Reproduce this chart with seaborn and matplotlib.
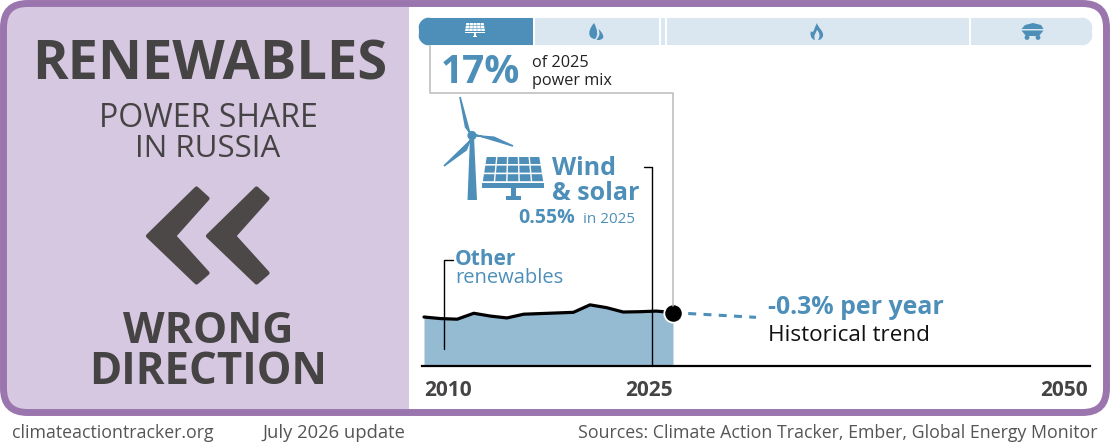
import numpy as np
import pandas as pd
import seaborn as sns
import matplotlib.pyplot as plt
from matplotlib.patches import FancyBboxPatch, Rectangle, Polygon, Circle, PathPatch
from matplotlib.path import Path

# power mix bar along the top (%)
mix_names = ['renewables', 'nuclear', 'oil', 'gas', 'coal']
mix_values = [17.1, 18.5, 0.9, 44.8, 18.2]

# historical share of renewables
years = [2010, 2011, 2012, 2013, 2014, 2015, 2016, 2017, 2018, 2019, 2020, 2021, 2022, 2023, 2024, 2025]
share = [15.7, 15.2, 15.0, 16.9, 16.0, 15.4, 16.6, 16.8, 17.0, 17.2, 19.6, 18.7, 17.3, 17.4, 17.6, 17.1]
trend_years = [2025, 2030]
trend_share = [17.1, 15.6]
tick_years = [2010, 2025, 2050]

BLUE = '#4d8fb8'
PALE = '#dbe7f0'
AREA = '#95bbd3'
PURPLE = '#9b76ae'
LILAC = '#d6c8e0'
DARK = '#454343'
GREY = '#b9bcbc'
W, H = 1110, 444

sns.set_theme(style="white")
plt.rcParams['font.family'] = ['Open Sans', 'DejaVu Sans']

fig = plt.figure(figsize=(W / 100, H / 100), dpi=100, facecolor='white')


def px_axes(x0, y0, x1, y1):
    # axes from pixel box, y counted from the top
    return fig.add_axes([x0 / W, 1 - y1 / H, (x1 - x0) / W, (y1 - y0) / H])


'''
stacked power mix bar
'''
ax_bar = px_axes(418, 17, 1093, 46)
ax_bar.patch.set_alpha(0)
mix = pd.DataFrame({'name': mix_names, 'value': mix_values})
mix['left'] = mix['value'].cumsum() - mix['value']
bars = ax_bar.barh(0, mix['value'], left=mix['left'], height=1,
                   color=[BLUE] + [PALE] * 4, edgecolor='white', linewidth=1.4)
ax_bar.set_xlim(0, mix['value'].sum())
ax_bar.set_ylim(-0.5, 0.5)
ax_bar.axis('off')
pill = FancyBboxPatch((0, 0), 1, 1, boxstyle='round,pad=0,rounding_size=14.5',
                      mutation_aspect=1, transform=None)
pill.set_bounds(418, H - 46, 675, 29)
for b in bars:
    b.set_clip_path(pill)

'''
chart
'''
ax = px_axes(422, 366 - 93.6, 1090, 366)
ax.patch.set_alpha(0)
ax.fill_between(years, share, 0, color=AREA, linewidth=0)
sns.lineplot(x=years, y=share, color='black', linewidth=2.3, ax=ax)
sns.lineplot(x=trend_years, y=trend_share, color=BLUE, linewidth=2.2, ax=ax, linestyle=(0, (2.6, 2.4)))
ax.scatter([years[-1]], [share[-1]], s=175, color='black', edgecolor='white', linewidth=1.3, zorder=5, clip_on=False)
ax.set_xlim(2009.88, 2050.12)
ax.set_ylim(0, 30)
ax.set_yticks([])
ax.set_xticks(tick_years)
ax.set_xticklabels([str(y) for y in tick_years], fontsize=15, fontweight='bold', color=DARK)
for lab, ha in zip(ax.get_xticklabels(), ['left', 'right', 'right']):
    lab.set_ha(ha)
ax.tick_params(axis='x', length=0, pad=10)
sns.despine(ax=ax, left=True)
ax.spines['bottom'].set_color('black')
ax.spines['bottom'].set_linewidth(1.6)

'''
everything else sits on a pixel overlay
'''
ov = fig.add_axes([0, 0, 1, 1], zorder=5)
ov.set_xlim(0, W)
ov.set_ylim(H, 0)
ov.axis('off')
ov.patch.set_alpha(0)

frame = FancyBboxPatch((3.5, 3.5), 1103, 409, boxstyle='round,pad=0,rounding_size=24',
                       facecolor='none', edgecolor=PURPLE, linewidth=5, zorder=4)
clip = FancyBboxPatch((3.5, 3.5), 1103, 409, boxstyle='round,pad=0,rounding_size=24',
                      facecolor='none', edgecolor='none', transform=ov.transData)
ov.add_patch(clip)
panel = Rectangle((0, 0), 409, 416, facecolor=LILAC, edgecolor='none', zorder=1)
ov.add_patch(panel)
panel.set_clip_path(clip)
ov.add_patch(frame)


def txt(x, y, s, size, color=DARK, weight='normal', ha='left'):
    ov.text(x, y, s, fontsize=size, color=color, fontweight=weight, ha=ha, va='baseline', zorder=6)


# left panel
txt(210, 79, 'RENEWABLES', 39, weight='bold', ha='center')
txt(208, 127, 'POWER SHARE', 23, ha='center')
txt(208, 157, 'IN RUSSIA', 22.5, ha='center')
txt(208, 343, 'WRONG', 31, weight='bold', ha='center')
txt(208, 384, 'DIRECTION', 31.5, weight='bold', ha='center')

chevron = np.array([(196.5, 188.5), (207.5, 198.5), (174, 236), (207.5, 273), (196.5, 282.5), (148, 236)], dtype=float)
for dx in [0, 60]:
    ov.add_patch(Polygon(chevron + [dx, 0], closed=True, facecolor='#4c4848', edgecolor='#4c4848',
                         linewidth=3, joinstyle='round', zorder=3))

# brackets
ov.plot([430, 430, 673, 673], [46, 93, 93, 306], color=GREY, lw=1.1, zorder=2)
ov.plot([644, 652, 652], [167, 167, 366], color='black', lw=1.0, zorder=3)
ov.plot([453, 444, 444], [260, 260, 349], color='black', lw=1.0, zorder=3)

# texts in chart
txt(441, 83, '17%', 28, color=BLUE, weight='bold')
txt(532, 67, 'of 2025', 11.7, color='#222222')
txt(532, 85, 'power mix', 11.7, color='#222222')
txt(552, 175, 'Wind', 18, color=BLUE, weight='bold')
txt(552, 200, '& solar', 18, color=BLUE, weight='bold')
txt(518, 223, '0.55%', 14, color=BLUE, weight='bold')
txt(583, 223, 'in 2025', 11, color=BLUE)
txt(455, 265, 'Other', 15, color=BLUE, weight='bold')
txt(455, 283, 'renewables', 14.5, color=BLUE)
txt(768, 314, '-0.3% per year', 17.9, color=BLUE, weight='bold')
txt(768, 341, 'Historical trend', 16.2, color='#111111')

# footer
txt(12, 438, 'climateactiontracker.org', 12.8, color='#555555')
txt(262, 438, 'July 2026 update', 13.2, color='#555555')
txt(1098, 438, 'Sources: Climate Action Tracker, Ember, Global Energy Monitor', 12.75, color='#555555', ha='right')


def solar_icon(cx, top, s, color):
    # s = 1 is the big panel, 62 px wide
    for r in range(3):
        for c in range(5):
            y0, y1 = top + r * 8.6 * s, top + (r + 1) * 8.6 * s - 1.6 * s
            i0 = lambda yy: (yy - top) / (25 * s) * 4 * s
            w0 = 27 * s
            x = lambda yy, k: cx + (k - 2.5) * (2 * (w0 + i0(yy))) / 5
            ov.add_patch(Polygon([(x(y0, c) + .7 * s, y0), (x(y0, c + 1) - .7 * s, y0),
                                  (x(y1, c + 1) - .7 * s, y1), (x(y1, c) + .7 * s, y1)],
                                 facecolor=color, edgecolor='none', zorder=6))
    ov.add_patch(Rectangle((cx - 31 * s, top + 26 * s), 62 * s, 5 * s, facecolor=color, edgecolor='none', zorder=6))
    ov.add_patch(Rectangle((cx - 2.5 * s, top + 31 * s), 5 * s, 8 * s, facecolor=color, edgecolor='none', zorder=6))
    ov.add_patch(Rectangle((cx - 7.5 * s, top + 39 * s), 15 * s, 4 * s, facecolor=color, edgecolor='none', zorder=6))


solar_icon(513, 157, 1, BLUE)
solar_icon(475, 23, 0.33, 'white')

# wind turbine
hub = (472, 135.5)
for tip, side in [((460, 97), (-4, 14)), ((513, 146), (14, -5)), ((444, 166), (11, 6))]:
    mid = (hub[0] * 0.62 + tip[0] * 0.38, hub[1] * 0.62 + tip[1] * 0.38)
    ov.add_patch(Polygon([(hub[0] + side[0] * 0.2, hub[1] + side[1] * 0.2), tip,
                          (mid[0] + side[0] * 0.45, mid[1] + side[1] * 0.45), hub],
                         facecolor=BLUE, edgecolor=BLUE, lw=1.2, zorder=6))
ov.add_patch(Circle(hub, 4.6, facecolor=BLUE, edgecolor='none', zorder=6))
ov.add_patch(Polygon([(470, 137), (474, 137), (477, 200), (467.5, 200)], facecolor=BLUE, edgecolor='none', zorder=6))

# leaf
M, C, Z = Path.MOVETO, Path.CURVE4, Path.CLOSEPOLY
leaf = Path([(594, 23), (588, 30), (587, 38), (595, 39), (598, 36), (598, 30), (594, 23), (594, 23)],
            [M, C, C, C, C, C, C, Z])
lobe = Path([(598.5, 29), (603, 33), (604, 37), (603, 38), (600, 41), (597, 40), (596.5, 39.5),
             (600, 36), (600, 33), (598.5, 29), (598.5, 29)],
            [M, C, C, C, C, C, C, C, C, C, Z])
ov.add_patch(PathPatch(leaf, facecolor=BLUE, edgecolor='none', zorder=6))
ov.add_patch(PathPatch(lobe, facecolor=BLUE, edgecolor='none', zorder=6))

# flame
flame = Path([(817, 23), (818, 28), (824, 31), (823, 36), (822, 39), (820, 40), (818, 40),
              (821, 36), (819, 32), (817, 30), (816, 33), (813, 35), (815, 40),
              (810, 39), (810, 33), (811, 31), (812, 33), (813, 32), (814, 30),
              (815, 27), (816, 25), (817, 23), (817, 23)],
             [M, C, C, C, C, C, C, C, C, C, C, C, C, C, C, C, C, C, C, C, C, C, Z])
ov.add_patch(PathPatch(flame, facecolor=BLUE, edgecolor='none', zorder=6))

# coal cart
ov.add_patch(Polygon([(1021.5, 29), (1025, 25), (1033, 23), (1041, 25), (1043.5, 29)], facecolor=BLUE, edgecolor='none', zorder=6))
ov.add_patch(Polygon([(1021.5, 30.5), (1043.5, 30.5), (1039, 36), (1026, 36)], facecolor=BLUE, edgecolor='none', zorder=6))
for cx in [1027, 1038]:
    ov.add_patch(Circle((cx, 37.5), 2.4, facecolor=BLUE, edgecolor='none', zorder=6))

fig.savefig('out.png', dpi=100)
